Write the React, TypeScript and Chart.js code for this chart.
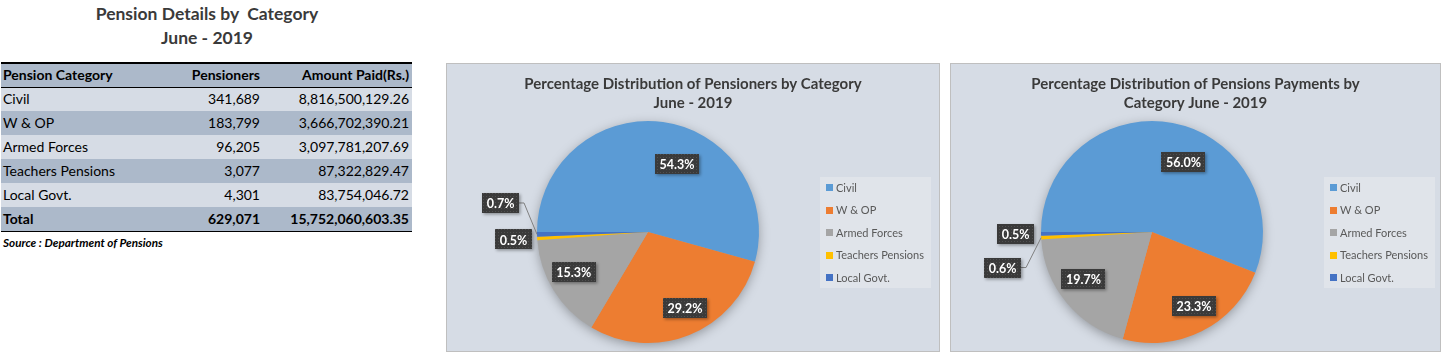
import React, { useEffect, useRef } from "react";
import { Chart, registerables } from "chart.js";
Chart.register(...registerables);

// ---------- data ----------
const categories = ["Civil", "W & OP", "Armed Forces", "Teachers Pensions", "Local Govt."];
const pensioners = [341689, 183799, 96205, 3077, 4301];
const amountPaid = [8816500129.26, 3666702390.21, 3097781207.69, 87322829.47, 83754046.72];
const tableTitle = ["Pension Details by  Category", "June - 2019"];
const tableHeaders = ["Pension Category", "Pensioners", "Amount Paid(Rs.)"];
const totalLabel = "Total";
const sourceNote = "Source : Department of Pensions";
const chart1Title = ["Percentage Distribution of Pensioners by Category", "June - 2019"];
const chart2Title = ["Percentage Distribution of Pensions Payments by", "Category June - 2019"];
const sliceColors = ["#5B9BD5", "#ED7D31", "#A5A5A5", "#FFC000", "#4472C4"];

// ---------- label placement styles (Excel best-fit imitation) ----------
type Place = { inside: boolean; shift?: number; r?: number; dx?: number; dy?: number; leader?: boolean };
const chart1Places: Place[] = [
  { inside: true, shift: 15.4, r: 0.665 },
  { inside: true, shift: -4.1, r: 0.76 },
  { inside: true, shift: 3.4, r: 0.76 },
  { inside: false, dx: -23.7, dy: 1 },
  { inside: false, dx: -36.5, dy: -31.4, leader: true },
];
const chart2Places: Place[] = [
  { inside: true, shift: 13.5, r: 0.69 },
  { inside: true, shift: -2.8, r: 0.77 },
  { inside: true, shift: 4.8, r: 0.75 },
  { inside: false, dx: -38.6, dy: 29.9, leader: true },
  { inside: false, dx: -25.5, dy: -0.3 },
];

const FONT = "Lato, 'Open Sans', sans-serif";

function makePattern(ctx: CanvasRenderingContext2D) {
  const c = document.createElement("canvas");
  c.width = 3;
  c.height = 3;
  const g = c.getContext("2d")!;
  g.fillStyle = "#3A3A3A";
  g.fillRect(0, 0, 3, 3);
  g.fillStyle = "#505050";
  g.fillRect(0, 0, 1, 1);
  return ctx.createPattern(c, "repeat") || "#3A3A3A";
}

const shadowPlugin = {
  id: "pieShadow",
  beforeDatasetsDraw(chart: any) {
    const arc = chart.getDatasetMeta(0).data[0];
    if (!arc) return;
    const { x, y, outerRadius } = arc.getProps(["x", "y", "outerRadius"], true);
    const ctx = chart.ctx as CanvasRenderingContext2D;
    ctx.save();
    ctx.shadowColor = "rgba(0,0,0,0.35)";
    ctx.shadowBlur = 12;
    ctx.shadowOffsetY = 3;
    ctx.beginPath();
    ctx.arc(x, y, outerRadius - 1, 0, Math.PI * 2);
    ctx.fillStyle = "#A5A5A5";
    ctx.fill();
    ctx.restore();
  },
};

const labelPlugin = {
  id: "pieLabels",
  afterDatasetsDraw(chart: any, _args: any, opts: any) {
    const ctx = chart.ctx as CanvasRenderingContext2D;
    const meta = chart.getDatasetMeta(0);
    const data = chart.data.datasets[0].data as number[];
    const total = data.reduce((a, b) => a + b, 0);
    const places: Place[] = opts.placements;
    const pattern = makePattern(ctx);
    meta.data.forEach((arc: any, i: number) => {
      const { x, y, startAngle, endAngle, outerRadius } = arc.getProps(
        ["x", "y", "startAngle", "endAngle", "outerRadius"],
        true
      );
      const mid = (startAngle + endAngle) / 2;
      const p = places[i];
      let lx: number, ly: number;
      const ex = x + Math.cos(mid) * outerRadius;
      const ey = y + Math.sin(mid) * outerRadius;
      if (p.inside) {
        const a = mid + ((p.shift || 0) * Math.PI) / 180;
        const r = outerRadius * (p.r || 0.7);
        lx = x + Math.cos(a) * r;
        ly = y + Math.sin(a) * r;
      } else {
        lx = ex + (p.dx || 0);
        ly = ey + (p.dy || 0);
      }
      const text = ((data[i] / total) * 100).toFixed(1) + "%";
      ctx.save();
      ctx.font = `bold 12.5px ${FONT}`;
      const w = Math.round(ctx.measureText(text).width + 9);
      const h = 20;
      if (p.leader) {
        ctx.strokeStyle = "#7F7F7F";
        ctx.lineWidth = 1;
        ctx.beginPath();
        ctx.moveTo(lx + w / 2, ly);
        ctx.lineTo(lx + w / 2 + 5, ly);
        ctx.lineTo(ex, ey);
        ctx.stroke();
      }
      ctx.shadowColor = "rgba(0,0,0,0.35)";
      ctx.shadowBlur = 3;
      ctx.shadowOffsetX = 1.5;
      ctx.shadowOffsetY = 1.5;
      ctx.fillStyle = pattern as any;
      ctx.fillRect(Math.round(lx - w / 2), Math.round(ly - h / 2), w, h);
      ctx.shadowColor = "transparent";
      ctx.fillStyle = "#FFFFFF";
      ctx.textAlign = "center";
      ctx.textBaseline = "middle";
      ctx.fillText(text, lx, ly + 1);
      ctx.restore();
    });
  },
};

const decorPlugin = {
  id: "decor",
  afterDraw(chart: any, _args: any, opts: any) {
    const ctx = chart.ctx as CanvasRenderingContext2D;
    const W = chart.width;
    ctx.save();
    // title
    ctx.fillStyle = "#3A3A3A";
    ctx.font = `bold 15px ${FONT}`;
    ctx.textAlign = "center";
    ctx.textBaseline = "middle";
    (opts.title as string[]).forEach((t, i) => ctx.fillText(t, W / 2, 20 + i * 19));
    // legend
    const lx = 373, ly = 113, lw = 111, lh = 111;
    ctx.fillStyle = "#E0E4EA";
    ctx.fillRect(lx, ly, lw, lh);
    ctx.font = `11px ${FONT}`;
    ctx.textAlign = "left";
    const labels = chart.data.labels as string[];
    const cols = chart.data.datasets[0].backgroundColor as string[];
    labels.forEach((lab, i) => {
      const cy = ly + 10.5 + i * 22.5;
      ctx.fillStyle = cols[i];
      ctx.fillRect(lx + 6, Math.round(cy - 3.5), 7, 7);
      ctx.fillStyle = "#595959";
      ctx.fillText(lab, lx + 16, cy + 0.5);
    });
    ctx.restore();
  },
};

function PieBox(props: {
  left: number;
  width: number;
  values: number[];
  title: string[];
  places: Place[];
}) {
  const ref = useRef<HTMLCanvasElement>(null);
  const cw = props.width - 2;
  const ch = 287;
  useEffect(() => {
    if (!ref.current) return;
    const chart = new Chart(ref.current, {
      type: "pie",
      data: {
        labels: categories,
        datasets: [
          {
            data: props.values,
            backgroundColor: sliceColors,
            borderWidth: 0,
          },
        ],
      },
      options: {
        responsive: false,
        animation: false,
        rotation: 270,
        layout: { padding: { left: 90, right: cw - 312, top: 57, bottom: ch - 279 } },
        plugins: {
          legend: { display: false },
          tooltip: { enabled: false },
          title: { display: false },
          pieLabels: { placements: props.places },
          decor: { title: props.title },
        } as any,
      },
      plugins: [shadowPlugin, labelPlugin, decorPlugin],
    });
    return () => chart.destroy();
  }, []);
  return (
    <div
      style={{
        position: "absolute",
        left: props.left,
        top: 63,
        width: props.width,
        height: 289,
        boxSizing: "border-box",
        border: "1px solid #BFBFBF",
        background: "#D6DCE5",
      }}
    >
      <canvas ref={ref} width={cw} height={ch} style={{ display: "block", width: cw, height: ch }} />
    </div>
  );
}

const fmtInt = (v: number) => v.toLocaleString("en-US");
const fmtAmt = (v: number) =>
  v.toLocaleString("en-US", { minimumFractionDigits: 2, maximumFractionDigits: 2 });

export default function App() {
  const totalP = pensioners.reduce((a, b) => a + b, 0);
  const totalA = amountPaid.reduce((a, b) => a + b, 0);
  const rowH = 24;
  const light = "#D6DCE5";
  const dark = "#ACB9CA";
  const cell = (bold: boolean): React.CSSProperties => ({
    position: "absolute",
    top: 0,
    height: rowH,
    lineHeight: rowH + "px",
    fontWeight: bold ? 700 : 400,
    whiteSpace: "nowrap",
  });
  const Row = (p: { bg: string; a: string; b: string; c: string; bold: boolean; top: number }) => (
    <div style={{ position: "absolute", left: 1, top: p.top, width: 411, height: rowH, background: p.bg }}>
      <div style={{ ...cell(p.bold), left: 2 }}>{p.a}</div>
      <div style={{ ...cell(p.bold), right: 411 - 259, textAlign: "right" }}>{p.b}</div>
      <div style={{ ...cell(p.bold), right: 3, textAlign: "right" }}>{p.c}</div>
    </div>
  );
  return (
    <div
      style={{
        position: "fixed",
        left: 0,
        top: 0,
        width: 1447,
        height: 359,
        background: "#FFFFFF",
        fontFamily: FONT,
        fontSize: 14,
        color: "#000",
        overflow: "hidden",
      }}
    >
      <div
        style={{
          position: "absolute",
          left: 57,
          width: 300,
          top: 2,
          textAlign: "center",
          fontWeight: 700,
          fontSize: 17.5,
          lineHeight: "24px",
          color: "#3A3A3A",
          whiteSpace: "pre",
        }}
      >
        <div>{tableTitle[0]}</div>
        <div>{tableTitle[1]}</div>
      </div>
      <Row bg={dark} a={tableHeaders[0]} b={tableHeaders[1]} c={tableHeaders[2]} bold top={63} />
      {categories.map((c, i) => (
        <Row
          key={c}
          bg={i % 2 === 0 ? light : dark}
          a={c}
          b={fmtInt(pensioners[i])}
          c={fmtAmt(amountPaid[i])}
          bold={false}
          top={87 + i * rowH}
        />
      ))}
      <Row bg={dark} a={totalLabel} b={fmtInt(totalP)} c={fmtAmt(totalA)} bold top={207} />
      <div style={{ position: "absolute", left: 1, top: 62, width: 411, height: 2, background: "#000" }} />
      <div style={{ position: "absolute", left: 1, top: 87, width: 411, height: 1, background: "#000" }} />
      <div style={{ position: "absolute", left: 1, top: 231, width: 411, height: 1, background: "#000" }} />
      <div
        style={{
          position: "absolute",
          left: 3,
          top: 234,
          fontSize: 11.7,
          fontWeight: 700,
          fontStyle: "italic",
          lineHeight: "16px",
          whiteSpace: "nowrap",
        }}
      >
        {sourceNote}
      </div>
      <PieBox left={446} width={494} values={pensioners} title={chart1Title} places={chart1Places} />
      <PieBox left={950} width={491} values={amountPaid} title={chart2Title} places={chart2Places} />
    </div>
  );
}
